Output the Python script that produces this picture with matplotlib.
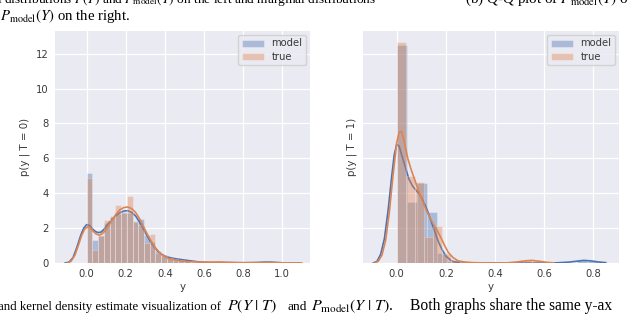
import numpy as np
import matplotlib
matplotlib.use("Agg")
import matplotlib.pyplot as plt
from matplotlib.patches import Patch

# ---------------- data ----------------
series_names = ["model", "true"]
ylabels = ["p(y | T = 0)", "p(y | T = 1)"]
yticks = [0, 2, 4, 6, 8, 10, 12]
xticks_left = [0.0, 0.2, 0.4, 0.6, 0.8, 1.0]
xticks_right = [0.0, 0.2, 0.4, 0.6, 0.8]

# left panel (T = 0): histogram bins
left_bin_width = 0.0293
left_model_heights = [5.15, 1.30, 1.55, 2.30, 2.65, 2.80, 2.90, 2.85, 2.40, 2.50, 1.60, 1.20,
                      0.70, 0.40, 0.30, 0.25, 0.18, 0.12, 0.08, 0.05, 0.03, 0.02, 0.02, 0.02,
                      0.01, 0.01, 0.01, 0.01, 0.02, 0.02, 0.04, 0.06, 0.04, 0.02, 0.01, 0.01, 0.0]
left_true_heights = [4.87, 0.76, 1.60, 2.45, 2.70, 3.35, 2.85, 3.85, 2.35, 2.20, 1.13, 1.67,
                     0.55, 0.45, 0.30, 0.22, 0.15, 0.10, 0.08, 0.05, 0.04, 0.03, 0.04, 0.06,
                     0.03, 0.02, 0.02, 0.01, 0.01, 0.02, 0.03, 0.02, 0.01, 0.01, 0.0, 0.0, 0.01]

# left panel KDE curves
left_model_kde_x = [-0.11, -0.09, -0.07, -0.05, -0.03, -0.015, 0.0, 0.015, 0.03, 0.045, 0.06,
                    0.075, 0.09, 0.11, 0.13, 0.15, 0.17, 0.19, 0.21, 0.23, 0.25, 0.27, 0.29,
                    0.31, 0.33, 0.35, 0.37, 0.39, 0.42, 0.45, 0.48, 0.52, 0.56, 0.6, 0.65, 0.7,
                    0.75, 0.8, 0.85, 0.88, 0.91, 0.94, 0.97, 1.0, 1.03, 1.06, 1.09]
left_model_kde_y = [0.0, 0.05, 0.3, 0.9, 1.6, 2.0, 2.2, 2.15, 1.95, 1.8, 1.74, 1.78, 1.95, 2.25,
                    2.5, 2.72, 2.88, 2.98, 3.0, 2.9, 2.7, 2.35, 1.95, 1.55, 1.15, 0.85, 0.6,
                    0.45, 0.32, 0.25, 0.2, 0.14, 0.08, 0.04, 0.02, 0.02, 0.02, 0.01, 0.02, 0.03,
                    0.05, 0.05, 0.03, 0.01, 0.005, 0.0, 0.0]
left_true_kde_x = [-0.10, -0.08, -0.06, -0.04, -0.025, -0.01, 0.005, 0.02, 0.035, 0.05, 0.065,
                   0.08, 0.095, 0.11, 0.13, 0.15, 0.17, 0.19, 0.21, 0.23, 0.25, 0.27, 0.29,
                   0.31, 0.33, 0.35, 0.37, 0.39, 0.42, 0.45, 0.48, 0.52, 0.56, 0.6, 0.64,
                   0.68, 0.72, 0.76, 0.8, 0.85, 0.9, 0.95, 1.0, 1.05, 1.1]
left_true_kde_y = [0.0, 0.1, 0.45, 1.1, 1.6, 1.95, 2.07, 2.0, 1.8, 1.65, 1.6, 1.68, 1.85, 2.1,
                   2.45, 2.8, 3.05, 3.18, 3.21, 3.12, 2.9, 2.55, 2.1, 1.65, 1.25, 0.9, 0.62,
                   0.42, 0.25, 0.18, 0.12, 0.08, 0.06, 0.05, 0.05, 0.06, 0.04, 0.02, 0.02,
                   0.02, 0.03, 0.02, 0.01, 0.005, 0.0]

# right panel (T = 1): histogram bins
right_model_bin_width = 0.0407
right_model_heights = [12.5, 3.5, 4.6, 2.95, 0.55, 0.10, 0.0, 0.0, 0.0, 0.0, 0.0, 0.0, 0.0,
                       0.0, 0.0, 0.0, 0.0, 0.0, 0.15, 0.10, 0.05]
right_true_bin_width = 0.0366
right_true_heights = [12.65, 5.0, 4.65, 1.5, 2.1, 0.5, 0.15, 0.05, 0.0, 0.0, 0.0, 0.0, 0.0,
                      0.0, 0.15, 0.10]

# right panel KDE curves
right_model_kde_x = [-0.095, -0.08, -0.065, -0.05, -0.035, -0.02, -0.01, 0.0, 0.01, 0.02, 0.035,
                     0.05, 0.065, 0.08, 0.095, 0.11, 0.125, 0.14, 0.155, 0.17, 0.185, 0.2,
                     0.22, 0.24, 0.27, 0.3, 0.35, 0.4, 0.5, 0.6, 0.65, 0.7, 0.73, 0.76, 0.79,
                     0.82, 0.85]
right_model_kde_y = [0.0, 0.1, 0.5, 1.4, 3.0, 5.0, 6.2, 6.8, 6.7, 6.2, 5.5, 4.8, 4.4, 4.15, 3.9,
                     3.5, 3.0, 2.4, 1.8, 1.2, 0.75, 0.4, 0.15, 0.05, 0.02, 0.01, 0.0, 0.0, 0.0,
                     0.0, 0.01, 0.05, 0.1, 0.15, 0.12, 0.06, 0.02]
right_true_kde_x = [-0.09, -0.075, -0.06, -0.045, -0.03, -0.015, 0.0, 0.01, 0.02, 0.03, 0.045,
                    0.06, 0.075, 0.09, 0.105, 0.12, 0.135, 0.15, 0.165, 0.18, 0.195, 0.21,
                    0.23, 0.25, 0.28, 0.31, 0.35, 0.4, 0.45, 0.49, 0.52, 0.55, 0.58, 0.61, 0.64]
right_true_kde_y = [0.0, 0.1, 0.45, 1.3, 2.9, 5.0, 6.9, 7.5, 7.55, 7.0, 6.0, 5.3, 4.7, 4.1,
                    3.55, 3.05, 2.6, 2.2, 1.85, 1.45, 1.0, 0.6, 0.3, 0.12, 0.05, 0.02, 0.01,
                    0.0, 0.01, 0.06, 0.12, 0.15, 0.1, 0.04, 0.0]

# ---------------- style ----------------
BLUE = "#4C72B0"
ORANGE = "#DD8452"
BG = "#EAEAF2"
TXT = "#3a3a3a"
FS = 7.2
LFS = 7.4

plt.rcParams["font.family"] = ["DejaVu Sans"]
plt.rcParams["mathtext.fontset"] = "stix"

fig = plt.figure(figsize=(6.4, 3.16), dpi=100)
W, H = 640.0, 316.0
axL = fig.add_axes([55 / W, 1 - 263 / H, (310 - 55) / W, (263 - 31) / H])
axR = fig.add_axes([363 / W, 1 - 263 / H, (619 - 363) / W, (263 - 31) / H], sharey=axL)


def draw(ax, mw, mh, tw, th, mkx, mky, tkx, tky):
    me = np.arange(len(mh)) * mw
    te = np.arange(len(th)) * tw
    ax.bar(me, mh, width=mw, align="edge", color=BLUE, alpha=0.4,
           edgecolor="white", linewidth=0.4, zorder=2)
    ax.plot(mkx, mky, color=BLUE, lw=1.2, zorder=3)
    ax.bar(te, th, width=tw, align="edge", color=ORANGE, alpha=0.4,
           edgecolor="white", linewidth=0.4, zorder=4)
    ax.plot(tkx, tky, color=ORANGE, lw=1.2, zorder=5)


draw(axL, left_bin_width, left_model_heights, left_bin_width, left_true_heights,
     left_model_kde_x, left_model_kde_y, left_true_kde_x, left_true_kde_y)
draw(axR, right_model_bin_width, right_model_heights, right_true_bin_width, right_true_heights,
     right_model_kde_x, right_model_kde_y, right_true_kde_x, right_true_kde_y)

for ax, xt, yl, xlim in [(axL, xticks_left, ylabels[0], (-0.162, 1.142)),
                         (axR, xticks_right, ylabels[1], (-0.137, 0.904))]:
    ax.set_facecolor(BG)
    for s in ax.spines.values():
        s.set_visible(False)
    ax.grid(True, color="white", lw=0.9, zorder=0)
    ax.set_axisbelow(True)
    ax.set_xlim(*xlim)
    ax.set_xticks(xt)
    ax.set_xticklabels([f"{v:.1f}" for v in xt])
    ax.tick_params(length=0, labelsize=FS, colors=TXT, pad=4.5)
    ax.set_xlabel("y", fontsize=LFS, color=TXT, labelpad=2)
    ax.set_ylabel(yl, fontsize=LFS, color=TXT, labelpad=4)
    handles = [Patch(facecolor=BLUE, alpha=0.4, edgecolor="white", linewidth=0.5),
               Patch(facecolor=ORANGE, alpha=0.4, edgecolor="white", linewidth=0.5)]
    leg = ax.legend(handles, series_names, loc="upper right", fontsize=FS,
                    frameon=True, facecolor=BG, edgecolor="#cccccc", framealpha=0.8,
                    handlelength=2.2, borderaxespad=0.4, borderpad=0.35, labelspacing=0.3)
    for t in leg.get_texts():
        t.set_color(TXT)

axL.set_ylim(0, 13.3)
axL.set_yticks(yticks)
axL.set_yticklabels([str(v) for v in yticks])
plt.setp(axR.get_yticklabels(), visible=False)
axR.set_ylabel(ylabels[1], fontsize=LFS, color=TXT, labelpad=4)

# caption fragments of the surrounding page
serif = ["Liberation Serif", "DejaVu Serif"]


def cap(px, py, s, size=9.6):
    return fig.text(px / W, 1 - py / H, s, ha="left", va="baseline", fontsize=size,
                    family=serif, color="black")


cap(-3, 3, r"l distributions $P(Y)$ and $P_{\mathrm{model}}(Y)$ on the left and marginal distributions")
cap(465, 3, r"(b) Q-Q plot of $P_{\mathrm{model}}(Y)$ o", 10.9)
cap(0, 20, r"$P_{\mathrm{model}}(Y)$ on the right.", 10.6)
cap(-2, 310, r"and kernel density estimate visualization of", 9.3)
cap(227, 310, r"$P(Y\ |\ T)$", 11.5)
cap(287, 310, r"and")
cap(311, 310, r"$P_{\mathrm{model}}(Y\ |\ T)$.", 11.5)
cap(410, 310, r"Both graphs share the same y-ax", 11.2)

fig.savefig("out.png", dpi=100)
